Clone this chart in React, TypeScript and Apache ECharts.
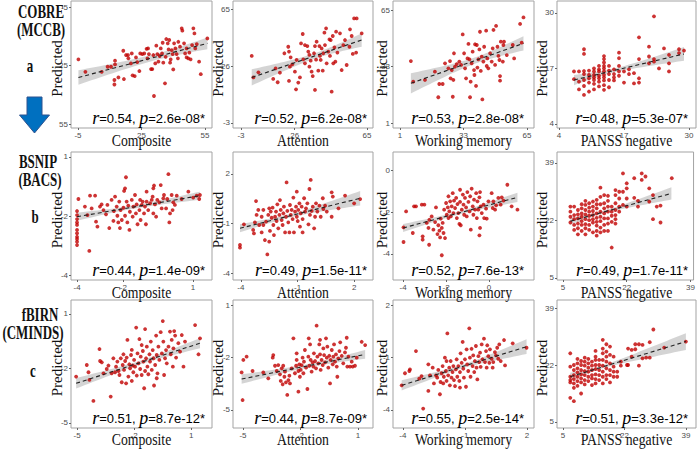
import React, { useEffect, useRef } from "react";
import * as echarts from "echarts";

type Pair = [number, number];

// ---------- texts ----------
const columnTitles = ["Composite", "Attention", "Working memory", "PANSS negative"];
const rowNames = [
  ["COBRE", "(MCCB)", "a"],
  ["BSNIP", "(BACS)", "b"],
  ["fBIRN", "(CMINDS)", "c"],
];
const rValues = ["0.54", "0.52", "0.53", "0.48", "0.44", "0.49", "0.52", "0.49", "0.51", "0.44", "0.55", "0.51"];
const pValues = ["2.6e-08*", "6.2e-08*", "2.8e-08*", "5.3e-07*", "1.4e-09*", "1.5e-11*", "7.6e-13*", "1.7e-11*", "8.7e-12*", "8.7e-09*", "2.5e-14*", "3.3e-12*"];

// ---------- axes (per panel, row-major) ----------
const xDomains: Pair[] = [
  [-8.3, 58.3], [-7.3, 68.2], [-2.5, 68.5], [3.6, 31.4],
  [-4.26, 1.82], [-4.42, 3.0], [-4.47, 2.09], [3.43, 39.8],
  [-5.32, 2.1], [-5.52, 1.78], [-4.48, 2.34], [3.33, 41.8],
];
const yDomains: Pair[] = [
  [-8.1, 57], [-6, 69.8], [-1.8, 70.1], [3.06, 32.8],
  [-4.21, 1.21], [-4.42, 3.33], [-5.24, 0.86], [4.4, 42.25],
  [-5.28, 1.77], [-6.03, 1.29], [-5.03, 2.29], [3.2, 41.4],
];
const yInverse = [true, false, false, false, false, false, false, false, false, false, false, false];
const xTicks = [
  [-5, 25, 55], [-3, 26, 65], [1, 33, 65], [4, 17, 30],
  [-4, -2, 1], [-4, -1, 2], [-4, -2, 0], [5, 22, 39],
  [-5, -2, 1], [-5, -2, 1], [-4, -1, 2], [5, 22, 39],
];
const yTicks = [
  [-5, 25, 55], [-3, 31, 65], [1, 33, 65], [4, 17, 30],
  [-4, -1.5, 1], [-4, -1, 2], [-4, -2, 0], [5, 22, 39],
  [-5, -2, 1], [-5, -2, 1], [-4, -1, 2], [5, 22, 39],
];
const yTickText = [
  ["-5", "25", "55"], ["-3", "26", "65"], ["1", "33", "65"], ["4", "17", "30"],
  ["-4", "-2", "1"], ["-4", "-1", "2"], ["-4", "-2", "0"], ["5", "22", "39"],
  ["-5", "-2", "1"], ["-5", "-2", "1"], ["-4", "-1", "2"], ["5", "22", "39"],
];

// ---------- fitted lines [x0, y0, x1, y1] and CI half widths [start, centre, end] ----------
const fitLines = [
  [-4.8, 31.1, 56.1, 13.6], [2.8, 24.2, 62.1, 46.5], [6.5, 23.5, 63.2, 46.1], [7, 14.3, 29, 20.4],
  [-4, -1.53, 1.3, -0.64], [-4.05, -1.29, 2.32, 0.53], [-4, -2.76, 1.32, -1.3], [7, 21.8, 33.9, 30.0],
  [-5.05, -2.82, 1.47, -0.61], [-5.07, -3.23, 1.37, -1.82], [-4.06, -2.59, 1.98, -0.38], [7, 18.5, 39, 29.0],
];
const bandHalfWidths = [
  [3.7, 1.6, 3.0], [4.8, 1.6, 4.0], [5.7, 1.8, 4.0], [1.2, 0.45, 1.6],
  [0.17, 0.07, 0.17], [0.24, 0.1, 0.44], [0.19, 0.07, 0.22], [1.0, 0.4, 1.8],
  [0.29, 0.1, 0.28], [0.27, 0.1, 0.25], [0.29, 0.1, 0.42], [1.2, 0.4, 2.5],
];

// ---------- scatter data ----------
const cobreComposite: Pair[] = [
  [-4.8,21.8],[-1.5,28.2],[6.2,28.2],[9.0,25.6],[10.6,25.6],[12.5,22.5],[12.5,24.4],[12.2,32.4],[12.2,34.7],[14.1,31.1],
  [16.4,17.4],[17.7,19.6],[18.8,21.3],[16.7,31.9],[20.0,23.9],[20.8,30.0],[21.8,30.4],[22.4,20.8],[23.0,23.2],[24.0,27.8],
  [24.4,18.8],[25.4,19.1],[26.3,18.8],[27.4,16.4],[28.1,16.2],[28.5,19.1],[27.8,21.3],[29.5,26.8],[30.1,26.8],[30.9,40.6],
  [31.5,23.9],[32.0,14.8],[32.5,19.1],[33.0,23.0],[33.6,20.1],[34.1,16.2],[34.7,18.8],[35.3,23.5],[36.1,34.1],[36.4,20.5],
  [36.7,11.4],[37.4,13.6],[37.8,16.7],[38.1,11.9],[38.8,21.8],[39.3,17.1],[39.7,19.1],[40.0,27.0],[40.4,13.6],[41.0,16.2],
  [41.6,19.1],[42.4,12.8],[43.2,15.3],[44.0,5.9],[44.3,7.1],[45.1,13.6],[45.6,18.8],[46.3,20.8],[47.1,21.3],[47.6,18.4],
  [48.2,21.8],[48.9,14.5],[49.5,5.9],[50.0,8.5],[50.4,16.2],[51.1,14.0],[52.2,23.0],[53.0,29.4],[56.1,11.1],[18.6,19.6],
  [46.3,16.2],[42.2,21.3],[38.5,23.5],[35.0,13.3],[30.6,19.6],[20.4,18.8],
];
const cobreAttention: Pair[] = [
  [2.8,37.0],[3.7,24.2],[6.4,27.2],[14.4,23.3],[15.7,29.6],[16.8,21.3],[18.0,27.0],[20.4,38.6],[22.5,42.5],[22.9,39.6],
  [22.9,22.1],[23.8,36.2],[24.7,32.0],[26.1,27.6],[26.7,17.1],[27.0,34.6],[27.9,21.1],[28.8,24.2],[29.4,44.5],[30.3,50.1],
  [30.6,35.0],[31.5,32.6],[31.5,43.5],[32.8,42.9],[33.3,39.6],[33.9,37.6],[33.9,30.6],[34.6,34.2],[35.7,25.0],[36.4,38.6],
  [36.9,16.7],[37.5,34.8],[37.8,45.5],[38.7,28.2],[39.3,42.9],[39.6,37.0],[40.0,34.6],[40.5,41.5],[41.1,28.2],[41.4,38.6],
  [42.0,50.9],[42.3,43.5],[42.9,53.5],[43.2,32.6],[44.1,39.6],[44.7,46.9],[45.0,37.0],[45.4,46.5],[45.9,15.7],[46.5,48.9],
  [46.8,32.6],[47.4,42.1],[47.9,33.6],[48.3,51.5],[49.0,39.0],[50.4,50.5],[51.3,28.6],[52.2,43.5],[53.1,46.5],[54.0,31.6],
  [55.5,42.5],[55.8,52.9],[56.7,48.9],[57.3,38.2],[58.0,59.4],[59.4,59.4],[59.1,39.0],[62.1,50.5],[36.9,42.9],[23.4,30.6],
  [35.1,27.6],
];
const cobreWorkingMemory: Pair[] = [
  [6.5,36.1],[7.7,24.4],[13.6,25.4],[18.6,30.1],[20.3,15.6],[20.8,23.1],[22.5,23.1],[23.7,34.8],[25.4,32.0],[26.2,36.1],
  [26.5,26.3],[27.1,31.0],[27.6,15.9],[27.9,25.4],[28.2,40.5],[28.7,32.9],[29.6,34.4],[30.9,35.8],[31.8,33.9],[32.6,51.2],
  [33.3,40.5],[33.8,32.0],[34.3,26.3],[35.0,37.6],[35.5,45.8],[36.0,37.1],[36.3,15.6],[36.6,24.4],[37.1,34.8],[37.6,41.4],
  [38.3,31.0],[38.8,45.6],[39.3,22.0],[39.7,45.2],[40.0,32.4],[40.5,37.1],[41.0,42.7],[41.3,52.7],[41.7,30.5],[42.2,38.6],
  [42.5,14.4],[43.0,35.8],[43.4,44.2],[44.4,53.3],[44.7,33.3],[45.0,37.6],[45.5,32.0],[46.4,40.5],[47.2,35.8],[47.7,43.3],
  [48.1,53.7],[48.9,33.9],[49.4,56.0],[50.1,44.2],[50.6,39.0],[51.1,36.7],[51.4,27.6],[51.4,25.0],[51.8,47.1],[52.8,35.8],
  [53.1,45.2],[53.4,47.1],[54.8,39.5],[57.8,45.2],[58.5,37.6],[61.5,57.1],[62.3,46.5],[63.2,60.8],[38.5,28.2],
];
const cobrePanss: Pair[] = [
  [7,16.3],[7,14.5],[8,16.3],[8,13.9],[8,12.1],[9,21.5],[9,20.4],[9,16.4],[9,15.7],[9,14.3],[9,12.9],[9,10.8],
  [10,16.5],[10,15.5],[10,14.7],[10,13.7],[10,11.6],[11,17.0],[11,16.3],[11,15.5],[11,14.9],[11,14.3],[11,13.4],[11,12.1],
  [12,17.6],[12,16.8],[12,16.3],[12,15.3],[12,14.7],[12,13.9],[12,12.8],[13,19.9],[13,19.2],[13,18.4],[13,17.6],[13,17.0],
  [13,16.3],[13,15.5],[13,14.9],[13,14.2],[13,13.1],[13,12.0],[14,17.6],[14,16.5],[14,15.7],[14,14.3],[14,12.6],[15,16.8],
  [15,15.7],[15,14.9],[15,14.2],[16,20.7],[16,19.4],[16,17.6],[16,16.3],[16,15.3],[17,16.3],[17,13.7],[18,16.8],[18,15.7],
  [19,15.9],[19,13.5],[20,24.3],[20,19.2],[20,14.7],[20,13.7],[22,22.1],[22,19.8],[22,18.2],[23,29.2],[23,19.2],[23,18.6],
  [24,17.0],[25,21.7],[26,20.2],[26,18.2],[26,16.3],[28,21.5],[28,20.6],[29,21.2],
];
const bsnipComposite: Pair[] = [
  [-4,-1.29],[-4,-1.46],[-4,-1.63],[-4,-1.77],[-4,-1.88],[-4,-2.09],[-4,-2.23],[-4,-2.38],[-4,-2.47],[-4,-2.59],[-4,-2.73],
  [-3.94,-0.78],[-3.66,-1.10],[-3.55,-1.46],[-3.47,-2.98],[-3.44,-0.64],[-3.37,-1.18],[-3.22,-0.64],[-3.18,-1.74],[-3.12,-1.95],
  [-3.01,-1.10],[-2.94,-1.01],[-2.86,-1.25],[-2.75,-1.43],[-2.69,-1.03],[-2.61,-2.01],[-2.51,-0.82],[-2.43,-1.71],[-2.41,-1.29],
  [-2.36,-0.68],[-2.29,-1.10],[-2.26,-1.49],[-2.22,-1.77],[-2.18,-0.89],[-2.15,-2.01],[-2.12,-1.25],[-2.07,-1.67],[-2.00,-1.15],
  [-1.97,-0.44],[-1.93,-1.49],[-1.89,0.14],[-1.86,-0.89],[-1.83,-1.77],[-1.79,-1.06],[-1.74,-2.09],[-1.72,-1.32],[-1.64,-0.82],
  [-1.60,-1.53],[-1.57,-1.10],[-1.50,-0.61],[-1.46,-1.39],[-1.43,-1.01],[-1.39,-1.85],[-1.31,-1.25],[-1.28,-0.82],[-1.26,-1.67],
  [-1.21,-1.03],[-1.17,-0.89],[-1.11,-1.39],[-1.07,-1.10],[-1.03,-1.85],[-1.00,-0.89],[-0.93,-1.25],[-0.85,-0.96],[-0.78,-0.82],
  [-0.74,-0.68],[-0.71,-1.39],[-0.68,-0.21],[-0.64,-1.01],[-0.59,-1.53],[-0.54,-0.82],[-0.45,-0.92],[-0.39,-0.19],[-0.35,-1.18],
  [-0.28,-0.75],[-0.25,-0.61],[-0.16,-1.18],[-0.11,-0.78],[-0.06,0.27],[-0.02,-1.77],[0.01,-1.39],[0.08,-0.61],[0.12,-1.25],
  [0.15,-0.92],[0.22,-1.03],[0.30,-0.64],[0.51,-0.78],[0.80,-0.47],[1.01,-0.72],[1.16,-0.64],[1.27,-0.78],[1.30,-0.61],
  [-1.93,-0.33],[-0.71,-0.33],[-1.00,-0.47],
];
const bsnipAttention: Pair[] = [
  [-4.05,-2.30],[-4.05,-2.46],[-3.84,-1.05],[-3.35,-1.39],[-3.31,-1.60],[-3.20,0.36],[-3.17,-0.48],[-3.08,-0.18],[-3.03,-1.09],
  [-2.90,-1.54],[-2.81,-1.09],[-2.81,-0.18],[-2.73,-2.00],[-2.67,-0.89],[-2.60,-2.87],[-2.55,-0.48],[-2.50,-0.08],[-2.50,-2.10],
  [-2.46,-1.45],[-2.42,-0.28],[-2.37,-0.65],[-2.32,-0.04],[-2.28,-1.09],[-2.25,-1.70],[-2.19,-0.59],[-2.14,-0.28],[-2.11,-0.85],
  [-2.07,0.16],[-2.02,-1.29],[-1.96,-0.48],[-1.93,0.42],[-1.89,-0.18],[-1.84,-0.79],[-1.79,-1.09],[-1.75,-0.38],[-1.72,0.02],
  [-1.66,-1.54],[-1.61,-0.59],[-1.58,1.49],[-1.54,-0.24],[-1.49,-0.93],[-1.43,-1.54],[-1.40,0.12],[-1.36,-0.48],[-1.31,-0.18],
  [-1.26,-0.73],[-1.22,0.57],[-1.19,-1.54],[-1.13,-0.28],[-1.08,0.02],[-1.04,0.93],[-1.04,-0.59],[-0.99,-0.85],[-0.96,-0.18],
  [-0.90,0.22],[-0.87,-1.19],[-0.83,-0.38],[-0.78,0.02],[-0.73,-0.73],[-0.65,0.53],[-0.60,-0.28],[-0.55,-0.08],[-0.48,0.22],
  [-0.42,-1.05],[-0.37,1.09],[-0.34,-0.48],[-0.30,1.64],[-0.25,-0.24],[-0.19,0.02],[-0.12,-1.29],[-0.07,-0.59],[-0.02,0.22],
  [0.05,-0.28],[0.16,0.08],[0.23,-0.59],[0.34,0.53],[0.37,-0.12],[0.46,0.08],[0.55,-0.28],[0.81,0.89],[0.81,-0.59],
  [0.87,0.63],[1.17,-0.08],[1.52,0.69],[2.0,0.22],[2.32,0.48],[-3.26,-0.93],[-2.90,-0.59],[-0.73,-1.54],
];
const bsnipWorkingMemory: Pair[] = [
  [-3.98,-2.73],[-3.98,-3.43],[-3.86,-1.97],[-3.55,-3.00],[-3.49,-1.73],[-3.40,-1.73],[-3.13,-1.65],[-3.09,-3.16],[-3.09,-3.32],
  [-3.01,-1.65],[-2.90,-2.52],[-2.82,-2.76],[-2.79,-3.56],[-2.78,-2.37],[-2.67,-2.21],[-2.59,-2.84],[-2.51,-2.48],[-2.47,-1.78],
  [-2.40,-3.05],[-2.36,-2.63],[-2.31,-2.89],[-2.28,-3.21],[-2.25,-2.32],[-2.20,-2.76],[-2.20,-4.06],[-2.16,-2.52],[-2.12,-3.00],
  [-2.09,-1.89],[-2.05,-3.24],[-2.00,-1.57],[-1.97,-2.13],[-1.92,-1.78],[-1.89,-1.25],[-1.85,-1.97],[-1.81,-1.49],[-1.78,-2.21],
  [-1.74,-1.73],[-1.69,-1.10],[-1.66,-2.05],[-1.63,-1.46],[-1.58,-1.81],[-1.53,-1.33],[-1.50,-2.29],[-1.47,-1.62],[-1.43,-2.05],
  [-1.38,-2.57],[-1.35,-1.52],[-1.32,-2.63],[-1.27,-1.89],[-1.22,-1.17],[-1.19,-1.65],[-1.16,-2.13],[-1.12,-1.33],[-1.07,-1.78],
  [-1.04,-2.21],[-1.01,-1.05],[-0.96,-1.52],[-0.91,-1.97],[-0.88,-1.25],[-0.85,-2.84],[-0.81,-0.89],[-0.76,-1.73],[-0.73,-2.13],
  [-0.70,-1.41],[-0.65,-1.89],[-0.60,-1.10],[-0.57,-2.29],[-0.54,-1.49],[-0.50,-1.89],[-0.45,-3.11],[-0.45,-1.30],[-0.42,-2.76],
  [-0.39,-1.73],[-0.34,-2.05],[-0.26,-1.65],[-0.23,-2.29],[-0.14,-1.84],[-0.11,-2.32],[-0.03,-1.49],[0.12,-1.10],[0.17,-1.81],
  [0.20,-1.49],[0.28,-1.89],[0.33,-1.68],[0.43,-1.33],[0.54,-1.65],[0.59,-1.30],[0.67,-1.46],[0.85,-0.70],[1.05,-1.73],
  [1.32,-1.89],[-1.35,-0.94],[-0.42,-1.05],[-1.89,-2.29],
];
const bsnipPanss: Pair[] = [
  [7,26.1],[7,24.6],[7,23.1],[7,21.4],[8,26.1],[8,23.6],[8,22.4],[8,20.7],[8,19.2],[9,25.1],[9,23.8],[9,22.6],[9,21.1],[9,19.7],
  [9,17.9],[10,26.8],[10,25.6],[10,24.1],[10,23.1],[10,21.8],[10,20.7],[10,18.9],[11,27.8],[11,26.6],[11,25.1],[11,23.8],[11,22.4],
  [11,20.9],[11,19.7],[11,17.9],[12,27.1],[12,25.8],[12,24.6],[12,23.4],[12,22.1],[12,20.7],[12,19.2],[13,27.6],[13,26.1],[13,24.8],
  [13,23.6],[13,22.4],[13,21.4],[13,18.5],[14,28.1],[14,26.8],[14,25.6],[14,24.1],[14,22.8],[14,21.6],[14,20.5],[14,18.9],[14,17.5],
  [15,31.7],[15,29.0],[15,26.8],[15,24.6],[15,23.1],[15,21.8],[15,19.9],[15,18.5],[16,29.5],[16,27.1],[16,25.6],[16,24.1],[16,22.6],
  [16,20.7],[16,18.9],[17,29.3],[17,27.8],[17,26.1],[17,24.6],[17,22.6],[17,21.1],[17,18.9],[18,26.1],[18,24.6],[18,23.4],[18,21.6],
  [18,14.0],[19,31.0],[19,29.5],[19,27.1],[19,25.1],[19,23.6],[19,22.4],[19,21.1],[20,30.5],[20,28.5],[20,26.1],[20,24.6],[21,35.9],
  [21,30.5],[21,26.6],[22,33.0],[22,31.5],[22,28.5],[22,26.1],[24,34.5],[24,28.7],[25,27.8],[25,26.1],[26,35.9],[26,34.0],[27,35.0],
  [28,31.5],[28,27.6],[29,29.5],[29,22.4],[30,26.1],[31,26.4],[31,21.4],[34,34.5],
];
const fbirnComposite: Pair[] = [
  [-5.05,-2.45],[-4.49,-1.81],[-4.40,-2.21],[-4.35,-2.63],[-4.14,-3.79],[-3.82,-0.93],[-3.79,-1.59],[-3.70,-1.66],[-3.61,-2.27],
  [-3.44,-2.03],[-3.35,-1.84],[-3.23,-3.55],[-3.18,-2.27],[-3.09,-1.44],[-3.00,-2.21],[-2.95,-1.90],[-2.88,-1.62],[-2.82,-2.14],
  [-2.77,-2.36],[-2.70,-1.44],[-2.65,-2.76],[-2.60,-1.81],[-2.56,-1.22],[-2.53,-2.08],[-2.47,-1.59],[-2.42,-2.82],[-2.39,-1.40],
  [-2.35,-0.43],[-2.30,-2.45],[-2.25,-1.77],[-2.21,-1.99],[-2.16,-1.26],[-2.12,-2.69],[-2.07,-1.84],[-2.04,-2.21],[-2.00,-1.53],
  [-1.95,-1.90],[-1.89,0.25],[-1.86,-2.39],[-1.82,-1.17],[-1.77,-1.72],[-1.72,-0.38],[-1.68,-2.03],[-1.65,-1.35],[-1.60,-2.36],
  [-1.54,-1.04],[-1.51,-1.62],[-1.47,-3.09],[-1.42,0.17],[-1.42,-2.14],[-1.37,-1.44],[-1.33,-0.80],[-1.30,-1.90],[-1.25,-2.32],
  [-1.19,-1.22],[-1.16,-1.62],[-1.12,-0.52],[-1.07,-2.08],[-1.02,-0.99],[-0.98,-1.44],[-0.95,-2.94],[-0.89,-1.81],[-0.84,-0.19],
  [-0.81,-1.26],[-0.77,-2.27],[-0.72,-0.80],[-0.67,-1.53],[-0.60,0.0],[-0.54,-1.17],[-0.49,0.61],[-0.46,-0.52],[-0.42,-2.36],
  [-0.37,-1.44],[-0.32,-0.99],[-0.28,-1.72],[-0.19,-0.80],[-0.11,0.03],[-0.07,-1.22],[-0.02,-0.43],[0.04,-1.90],[0.07,-0.89],
  [0.11,0.06],[0.16,-0.19],[0.21,-1.40],[0.33,-0.61],[0.42,-1.07],[0.51,-0.16],[0.60,-1.90],[0.68,-0.52],[1.21,0.39],
  [1.39,-1.22],[1.47,-0.34],[-1.60,-0.71],[-2.12,-0.98],[-0.81,-2.54],
];
const fbirnAttention: Pair[] = [
  [-5.07,-2.85],[-5.02,-4.43],[-4.98,-2.14],[-4.81,-1.95],[-4.50,-2.77],[-3.94,-2.85],[-3.68,-3.19],[-3.45,-2.01],[-3.42,-1.86],
  [-3.33,-2.47],[-3.24,-2.77],[-3.16,-2.43],[-3.07,-2.96],[-3.03,-3.34],[-2.98,-2.62],[-2.93,-3.53],[-2.90,-2.47],[-2.84,-3.10],
  [-2.81,-2.81],[-2.76,-3.42],[-2.69,-4.14],[-2.63,-3.29],[-2.58,-3.04],[-2.55,-3.48],[-2.46,-2.62],[-2.37,-0.90],[-2.29,-2.90],
  [-2.23,-2.47],[-2.20,-2.14],[-2.11,-2.77],[-2.11,-3.95],[-2.06,-2.39],[-2.03,-3.10],[-1.99,-2.71],[-1.94,-2.43],[-1.89,-2.01],
  [-1.85,-2.90],[-1.82,-2.24],[-1.77,-1.57],[-1.71,-2.58],[-1.64,-3.80],[-1.59,-1.95],[-1.57,-0.90],[-1.54,-2.47],[-1.50,-1.25],
  [-1.47,-2.14],[-1.42,-2.81],[-1.37,-2.28],[-1.33,-2.52],[-1.30,-1.76],[-1.24,-2.20],[-1.19,-2.62],[-1.16,-0.18],[-1.12,-1.95],
  [-1.07,-2.33],[-1.02,-1.25],[-0.98,-1.82],[-0.95,-2.71],[-0.90,-2.14],[-0.84,-2.43],[-0.81,-1.48],[-0.77,-1.86],[-0.72,-2.28],
  [-0.67,-0.90],[-0.63,-2.01],[-0.60,-1.38],[-0.55,-2.58],[-0.50,-1.90],[-0.46,-3.48],[-0.43,-2.14],[-0.37,-1.57],[-0.32,-2.39],
  [-0.29,-1.95],[-0.25,-1.25],[-0.20,-2.24],[-0.15,-1.82],[-0.11,-2.52],[-0.08,-3.10],[-0.03,-2.05],[0.03,-1.63],[0.07,-1.13],
  [0.15,-1.90],[0.23,-2.33],[0.32,-1.71],[0.37,-1.44],[0.41,-0.87],[0.44,-2.52],[0.50,-1.95],[0.58,-2.52],[0.67,-2.24],
  [0.72,-2.52],[0.84,-2.47],[0.93,-2.01],[1.19,-1.10],[1.37,-1.29],[-2.20,-1.76],[-0.98,-0.99],
];
const fbirnWorkingMemory: Pair[] = [
  [-4.06,-2.59],[-3.90,-1.90],[-3.69,-1.77],[-3.66,-1.68],[-3.37,-0.63],[-3.21,-2.21],[-3.10,-2.06],[-3.02,-3.92],[-2.77,-2.91],
  [-2.77,-1.39],[-2.69,-2.02],[-2.56,-1.58],[-2.50,-2.48],[-2.40,-2.02],[-2.34,-2.15],[-2.29,-1.71],[-2.21,-3.10],[-2.18,-2.40],
  [-2.13,-1.90],[-2.08,-1.49],[-2.05,-2.48],[-2.02,-2.10],[-1.97,-1.01],[-1.92,-1.77],[-1.89,-2.34],[-1.85,0.38],[-1.81,-2.02],
  [-1.76,-1.58],[-1.73,-2.59],[-1.69,-1.20],[-1.65,-2.15],[-1.60,-1.83],[-1.56,-1.49],[-1.53,-2.29],[-1.48,-2.63],[-1.44,-1.68],
  [-1.40,-1.10],[-1.37,-2.10],[-1.32,-1.49],[-1.27,-2.34],[-1.24,-1.83],[-1.21,-0.76],[-1.16,-1.30],[-1.11,-0.11],[-1.08,-1.64],
  [-1.05,-2.15],[-1.00,-1.10],[-0.95,-2.67],[-0.92,-0.53],[-0.89,-1.39],[-0.84,-1.77],[-0.79,0.67],[-0.76,-1.01],[-0.73,-2.10],
  [-0.68,-0.50],[-0.63,-1.49],[-0.60,-0.88],[-0.55,-1.83],[-0.52,-1.20],[-0.47,-0.34],[-0.44,-1.58],[-0.40,-2.25],[-0.35,-0.92],
  [-0.31,-1.26],[-0.27,-0.72],[-0.24,-1.53],[-0.19,-0.25],[-0.15,-1.10],[-0.08,0.08],[-0.03,-1.26],[0.02,-0.63],[0.05,-1.58],
  [0.08,-0.30],[0.13,-0.92],[0.18,-1.30],[0.21,-0.53],[0.29,-1.07],[0.34,-1.58],[0.37,-1.26],[0.45,-0.69],[0.50,-0.88],
  [0.56,-0.44],[0.61,-1.07],[0.66,-0.25],[0.73,-1.20],[0.89,0.0],[0.94,-1.45],[1.31,-0.19],[1.98,-0.44],[-1.89,-1.20],
  [-1.24,-2.72],
];
const fbirnPanss: Pair[] = [
  [7,25.5],[7,21.5],[7,18.5],[7,17.5],[7,16.8],[7,12.2],[8,22.0],[8,20.5],[8,19.0],[8,17.8],[8,16.5],[8,15.2],[8,11.2],
  [9,23.8],[9,22.5],[9,21.0],[9,19.8],[9,18.5],[9,17.2],[9,15.8],[10,23.2],[10,22.0],[10,20.5],[10,19.2],[10,18.0],[10,16.8],
  [10,13.5],[11,24.2],[11,23.0],[11,21.8],[11,20.2],[11,19.0],[11,17.5],[11,16.2],[12,23.8],[12,22.5],[12,21.2],[12,20.0],
  [12,18.5],[12,17.2],[13,23.0],[13,21.8],[13,20.5],[13,19.0],[13,18.0],[13,16.0],[14,26.2],[14,24.5],[14,23.5],[14,22.0],
  [14,20.8],[14,19.2],[14,17.8],[14,16.5],[15,23.5],[15,22.0],[15,20.5],[15,19.0],[15,17.5],[16,29.5],[16,26.9],[16,25.5],
  [16,23.5],[16,21.8],[16,20.0],[16,18.5],[16,16.5],[17,28.2],[17,26.0],[17,24.5],[17,23.0],[17,21.0],[17,19.0],[17,17.8],
  [18,27.5],[18,25.0],[18,22.5],[18,20.5],[18,19.0],[18,16.8],[19,24.5],[19,21.5],[19,20.0],[19,18.5],[20,20.0],[20,18.5],
  [21,23.0],[21,21.8],[22.7,22.0],[23,26.9],[23,22.0],[24,24.5],[24,26.5],[25,26.7],[25,28.2],[26,28.2],[26,21.8],[27,28.0],
  [27,24.0],[28,24.2],[29,28.8],[29,24.2],[30,32.6],[33,27.2],[39,29.0],
];

const panelData: Pair[][] = [
  cobreComposite, cobreAttention, cobreWorkingMemory, cobrePanss,
  bsnipComposite, bsnipAttention, bsnipWorkingMemory, bsnipPanss,
  fbirnComposite, fbirnAttention, fbirnWorkingMemory, fbirnPanss,
];

// ---------- layout ----------
const colLeft = [71, 233, 393, 557];
const colWidth = [141, 140, 141, 139];
const rowTop = [1, 152, 300];
const rowHeight = [127, 128, 128];
const titleY = [141, 293, 440];
const predictedX = [57, 218, 382, 542];
const annotRight = [205, 367, 524, 688];

function bandPolygon(i: number): number[][] {
  const [x0, y0, x1, y1] = fitLines[i];
  const [h0, hm, h1] = bandHalfWidths[i];
  const pts = panelData[i];
  const xm = pts.reduce((s, p) => s + p[0], 0) / pts.length;
  const upper: number[][] = [];
  const lower: number[][] = [];
  const n = 30;
  for (let k = 0; k <= n; k++) {
    const x = x0 + ((x1 - x0) * k) / n;
    const y = y0 + ((y1 - y0) * (x - x0)) / (x1 - x0);
    const he = x < xm ? h0 : h1;
    const xe = x < xm ? x0 : x1;
    const t = (x - xm) / (xe - xm);
    const h = Math.sqrt(hm * hm + (he * he - hm * hm) * t * t);
    upper.push([x, y + h]);
    lower.push([x, y - h]);
  }
  return upper.concat(lower.reverse());
}

export default function App() {
  const ref = useRef<HTMLDivElement>(null);
  useEffect(() => {
    if (!ref.current) return;
    const chart = echarts.init(ref.current, undefined, { renderer: "svg" });
    const idx = panelData.map((_, i) => i);
    const grid = idx.map((i) => ({
      left: colLeft[i % 4],
      top: rowTop[Math.floor(i / 4)],
      width: colWidth[i % 4],
      height: rowHeight[Math.floor(i / 4)],
      show: true,
      borderColor: "#a3a3a3",
      borderWidth: 1,
      backgroundColor: "#ffffff",
    }));
    const axisLabelBase = { fontSize: 8, color: "#4d4d4d", fontFamily: "Liberation Sans" };
    const xAxis = idx.map((i) => ({
      type: "value",
      gridIndex: i,
      position: "bottom",
      min: xDomains[i][0],
      max: xDomains[i][1],
      splitLine: { show: false },
      axisLine: { show: false, onZero: false },
      axisTick: { show: true, customValues: xTicks[i], length: 2, lineStyle: { color: "#666" } },
      axisLabel: { ...axisLabelBase, customValues: xTicks[i], margin: 3 },
    }));
    const yAxis = idx.map((i) => ({
      type: "value",
      gridIndex: i,
      position: "left",
      min: yDomains[i][0],
      max: yDomains[i][1],
      inverse: yInverse[i],
      splitLine: { show: false },
      axisLine: { show: false, onZero: false },
      axisTick: { show: true, customValues: yTicks[i], length: 2, lineStyle: { color: "#666" } },
      axisLabel: {
        ...axisLabelBase,
        customValues: yTicks[i],
        margin: 3,
        formatter: (v: number) => {
          const k = yTicks[i].findIndex((t) => Math.abs(t - v) < 1e-6);
          return k >= 0 ? yTickText[i][k] : "";
        },
      },
    }));
    const series: any[] = [];
    idx.forEach((i) => {
      const poly = bandPolygon(i);
      const [x0, y0, x1, y1] = fitLines[i];
      series.push({
        type: "custom",
        xAxisIndex: i,
        yAxisIndex: i,
        silent: true,
        z: 1,
        data: [[x0, y0]],
        renderItem: (_p: any, api: any) => ({
          type: "polygon",
          shape: { points: poly.map((p) => api.coord(p)) },
          style: { fill: "#999999", opacity: 0.42 },
        }),
      });
      series.push({
        type: "scatter",
        xAxisIndex: i,
        yAxisIndex: i,
        z: 2,
        symbol: "circle",
        symbolSize: 3.8,
        itemStyle: { color: "#c00000" },
        data: panelData[i],
      });
      series.push({
        type: "line",
        xAxisIndex: i,
        yAxisIndex: i,
        z: 3,
        symbol: "none",
        silent: true,
        lineStyle: { color: "#222", width: 1.1, type: [4, 3] },
        data: [[x0, y0], [x1, y1]],
      });
    });

    const graphic: any[] = [];
    idx.forEach((i) => {
      const r = Math.floor(i / 4);
      const c = i % 4;
      graphic.push({
        type: "text",
        x: colLeft[c] + colWidth[c] / 2,
        y: titleY[r],
        scaleX: 0.86,
        z: 100,
        style: { text: columnTitles[c], font: '16px "Liberation Serif"', fill: "#111", align: "center", verticalAlign: "middle" },
      });
      graphic.push({
        type: "text",
        x: predictedX[c],
        y: rowTop[r] + rowHeight[r] / 2 + 4,
        rotation: Math.PI / 2,
        z: 100,
        style: { text: "Predicted", font: '15px "Liberation Serif"', fill: "#111", align: "center", verticalAlign: "middle" },
      });
      graphic.push({
        type: "text",
        x: annotRight[c],
        y: rowTop[r] + rowHeight[r] - 10,
        z: 100,
        style: {
          text: `{i|r}{n|=${rValues[i]}, }{i|p}{n|=${pValues[i]}}`,
          align: "right",
          verticalAlign: "middle",
          fill: "#000",
          rich: {
            i: { fontFamily: "Liberation Serif", fontStyle: "italic", fontSize: 18, fill: "#000" },
            n: { fontFamily: "Liberation Sans", fontSize: 13, fill: "#000" },
          },
        },
      });
    });
    const namePos = [
      [[41, 12], [41, 30], [30, 66]],
      [[38, 162], [40, 180], [35, 217]],
      [[40, 315], [33, 333], [33, 371]],
    ];
    rowNames.forEach((names, r) => {
      names.forEach((t, k) => {
        graphic.push({
          type: "text",
          x: namePos[r][k][0],
          y: namePos[r][k][1],
          scaleX: 0.72,
          z: 100,
          style: { text: t, font: 'bold 18px "Liberation Serif"', fill: "#111", align: "center", verticalAlign: "middle" },
        });
      });
    });
    graphic.push({
      type: "polygon",
      z: 100,
      shape: { points: [[27, 97], [42, 97], [42, 115], [49.5, 115], [34.5, 133], [19.5, 115], [27, 115]] },
      style: { fill: "#0070c0", stroke: "#2f528f", lineWidth: 1 },
    });

    chart.setOption({
      animation: false,
      backgroundColor: "#ffffff",
      grid,
      xAxis,
      yAxis,
      series,
      graphic,
    });
    return () => chart.dispose();
  }, []);
  return (
    <div
      ref={ref}
      style={{ position: "fixed", left: 0, top: 0, width: 698, height: 450, background: "#fff" }}
    />
  );
}
